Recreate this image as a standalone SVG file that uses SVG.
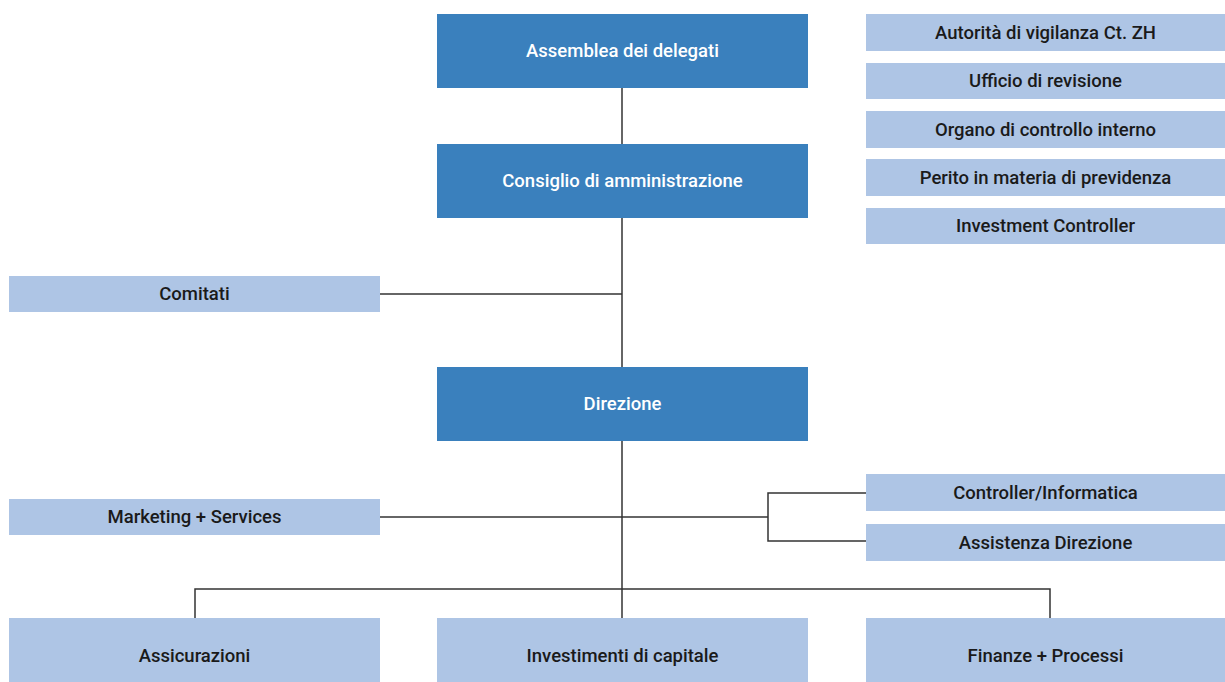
<svg xmlns="http://www.w3.org/2000/svg" width="1225" height="682" viewBox="0 0 1225 682">
<style>
.dark{fill:#3a80bd}
.light{fill:#aec5e5}
text{font-family:Roboto,"Liberation Sans",sans-serif;font-weight:500;font-size:18.5px;text-anchor:middle;dominant-baseline:central}
.dark-t{fill:#ffffff}
.light-t{fill:#1a1a1a}
.conn{fill:none;stroke:#333333;stroke-width:1.5}
</style>
<rect width="1225" height="682" fill="#ffffff"/>
<g id="connectors">
<line class="conn" x1="622" y1="88" x2="622" y2="618"/>
<line class="conn" x1="380" y1="294" x2="622" y2="294"/>
<line class="conn" x1="380" y1="517" x2="768" y2="517"/>
<polyline class="conn" points="866,493 768,493 768,541 866,541"/>
<polyline class="conn" points="195,618 195,589 1050,589 1050,618"/>
</g>
<g id="assemblea"><rect class="dark" x="437" y="14" width="371" height="74"/><text class="dark-t" x="622.5" y="51">Assemblea dei delegati</text></g>
<g id="consiglio"><rect class="dark" x="437" y="144" width="371" height="74"/><text class="dark-t" x="622.5" y="181">Consiglio di amministrazione</text></g>
<g id="direzione"><rect class="dark" x="437" y="367" width="371" height="74"/><text class="dark-t" x="622.5" y="404">Direzione</text></g>
<g id="autorita"><rect class="light" x="866" y="14" width="359" height="37"/><text class="light-t" x="1045.5" y="32.5">Autorità di vigilanza Ct. ZH</text></g>
<g id="ufficio"><rect class="light" x="866" y="63" width="359" height="36"/><text class="light-t" x="1045.5" y="81">Ufficio di revisione</text></g>
<g id="organo"><rect class="light" x="866" y="111" width="359" height="37"/><text class="light-t" x="1045.5" y="129.5">Organo di controllo interno</text></g>
<g id="perito"><rect class="light" x="866" y="159" width="359" height="37"/><text class="light-t" x="1045.5" y="177.5">Perito in materia di previdenza</text></g>
<g id="investment-controller"><rect class="light" x="866" y="208" width="359" height="36"/><text class="light-t" x="1045.5" y="226">Investment Controller</text></g>
<g id="comitati"><rect class="light" x="9" y="276" width="371" height="36"/><text class="light-t" x="194.5" y="294">Comitati</text></g>
<g id="marketing"><rect class="light" x="9" y="499" width="371" height="36"/><text class="light-t" x="194.5" y="517">Marketing + Services</text></g>
<g id="controller-informatica"><rect class="light" x="866" y="474" width="359" height="37"/><text class="light-t" x="1045.5" y="492.5">Controller/Informatica</text></g>
<g id="assistenza"><rect class="light" x="866" y="524" width="359" height="37"/><text class="light-t" x="1045.5" y="542.5">Assistenza Direzione</text></g>
<g id="assicurazioni"><rect class="light" x="9" y="618" width="371" height="64"/><text class="light-t" x="194.5" y="656">Assicurazioni</text></g>
<g id="investimenti"><rect class="light" x="437" y="618" width="371" height="64"/><text class="light-t" x="622.5" y="656">Investimenti di capitale</text></g>
<g id="finanze"><rect class="light" x="866" y="618" width="359" height="64"/><text class="light-t" x="1045.5" y="656">Finanze + Processi</text></g>
</svg>
